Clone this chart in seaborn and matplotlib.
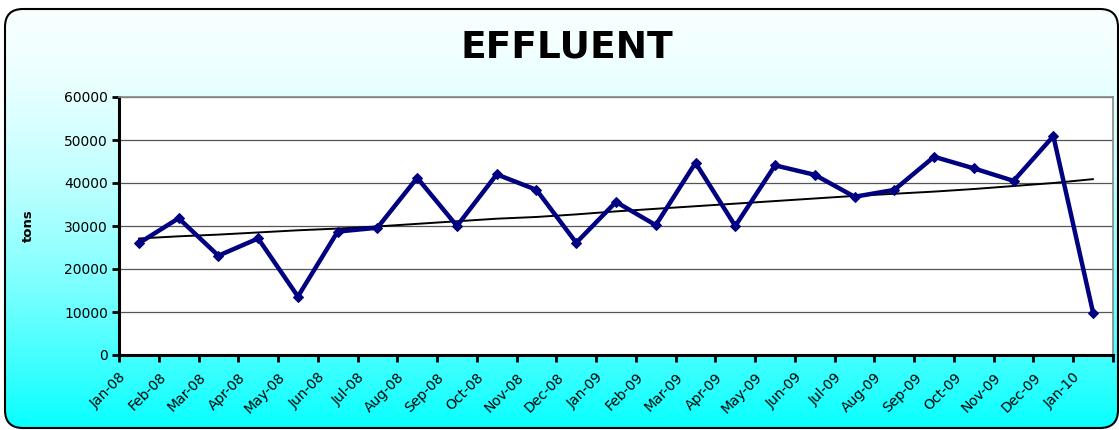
import numpy as np
import pandas as pd
import matplotlib
matplotlib.use("Agg")
import matplotlib.pyplot as plt
from matplotlib.patches import FancyBboxPatch
import seaborn as sns

# Monthly effluent (tons)
months = ["Jan-08", "Feb-08", "Mar-08", "Apr-08", "May-08", "Jun-08", "Jul-08",
          "Aug-08", "Sep-08", "Oct-08", "Nov-08", "Dec-08", "Jan-09", "Feb-09",
          "Mar-09", "Apr-09", "May-09", "Jun-09", "Jul-09", "Aug-09", "Sep-09",
          "Oct-09", "Nov-09", "Dec-09", "Jan-10"]
effluent = [26000, 31800, 23100, 27100, 13600, 28700, 29600, 41200, 30000,
            42000, 38400, 26100, 35600, 30200, 44700, 30000, 44100, 41900,
            36800, 38400, 46100, 43400, 40500, 50900, 9800]
trend = [27100, 27600, 28000, 28500, 29000, 29400, 29900, 30500, 31100,
         31700, 32100, 32700, 33400, 34000, 34600, 35200, 35800, 36400,
         37000, 37500, 38000, 38600, 39300, 40000, 40900]
y_ticks = [0, 10000, 20000, 30000, 40000, 50000, 60000]

df = pd.DataFrame({"pos": np.arange(len(months)) + 0.5,
                   "tons": effluent, "trend": trend})

sns.set_style("white")
plt.rcParams["font.family"] = ["DejaVu Sans"]
plt.rcParams["text.color"] = "black"
plt.rcParams["xtick.color"] = "black"
plt.rcParams["ytick.color"] = "black"
plt.rcParams["axes.labelcolor"] = "black"

fig = plt.figure(figsize=(11.19, 4.3), dpi=100)

# Background: rounded frame with white-to-cyan gradient
bg = fig.add_axes([0, 0, 1, 1])
bg.set_xlim(0, 1119)
bg.set_ylim(430, 0)
bg.axis("off")
frame = FancyBboxPatch((5, 9), 1113, 419, boxstyle="round,pad=0,rounding_size=18",
                       facecolor="none", edgecolor="black", linewidth=1.5)
bg.add_patch(frame)
t = np.linspace(0, 1, 256)[:, None]
r = 0.97 - 0.95 * t ** 1.6
img = np.dstack([np.repeat(r, 2, axis=1), np.ones((256, 2)), np.ones((256, 2))])
im = bg.imshow(img, extent=[0, 1119, 430, 9], aspect="auto", zorder=0)
im.set_clip_path(frame)

ax = fig.add_axes([119 / 1119, 1 - 355 / 430, (1113 - 119) / 1119, (355 - 97) / 430])
ax.set_facecolor("white")

sns.lineplot(data=df, x="pos", y="trend", ax=ax, color="black", linewidth=1.4)
sns.lineplot(data=df, x="pos", y="tons", ax=ax, color="#000080", linewidth=3.2,
             marker="D", markersize=5, markeredgecolor="#000080")

ax.set_xlim(0, len(months))
ax.set_ylim(0, 60000)
ax.set_yticks(y_ticks)
ax.set_yticklabels([str(v) for v in y_ticks], fontsize=10)
ax.set_xticks(np.arange(len(months) + 1))
ax.set_xticklabels(months + [""], rotation=45, ha="right",
                   rotation_mode="anchor", fontsize=10)
ax.grid(axis="y", color="#555555", linewidth=0.9)
ax.set_axisbelow(True)
ax.tick_params(axis="both", direction="out", length=5, width=2, color="black",
               left=True, bottom=True, pad=3)
ax.tick_params(axis="x", pad=6)

for side in ["left", "bottom"]:
    ax.spines[side].set_color("black")
    ax.spines[side].set_linewidth(2.2)
for side in ["top", "right"]:
    ax.spines[side].set_color("#888888")
    ax.spines[side].set_linewidth(1.2)

ax.set_xlabel("")
ax.set_ylabel("tons", fontsize=9.5, fontweight="bold")
ax.yaxis.set_label_coords(-0.085, 0.5)

fig.text(567 / 1119, 1 - 48 / 430, "EFFLUENT", ha="center", va="center",
         fontsize=27, fontweight="bold")

fig.savefig("out.png", dpi=100)
